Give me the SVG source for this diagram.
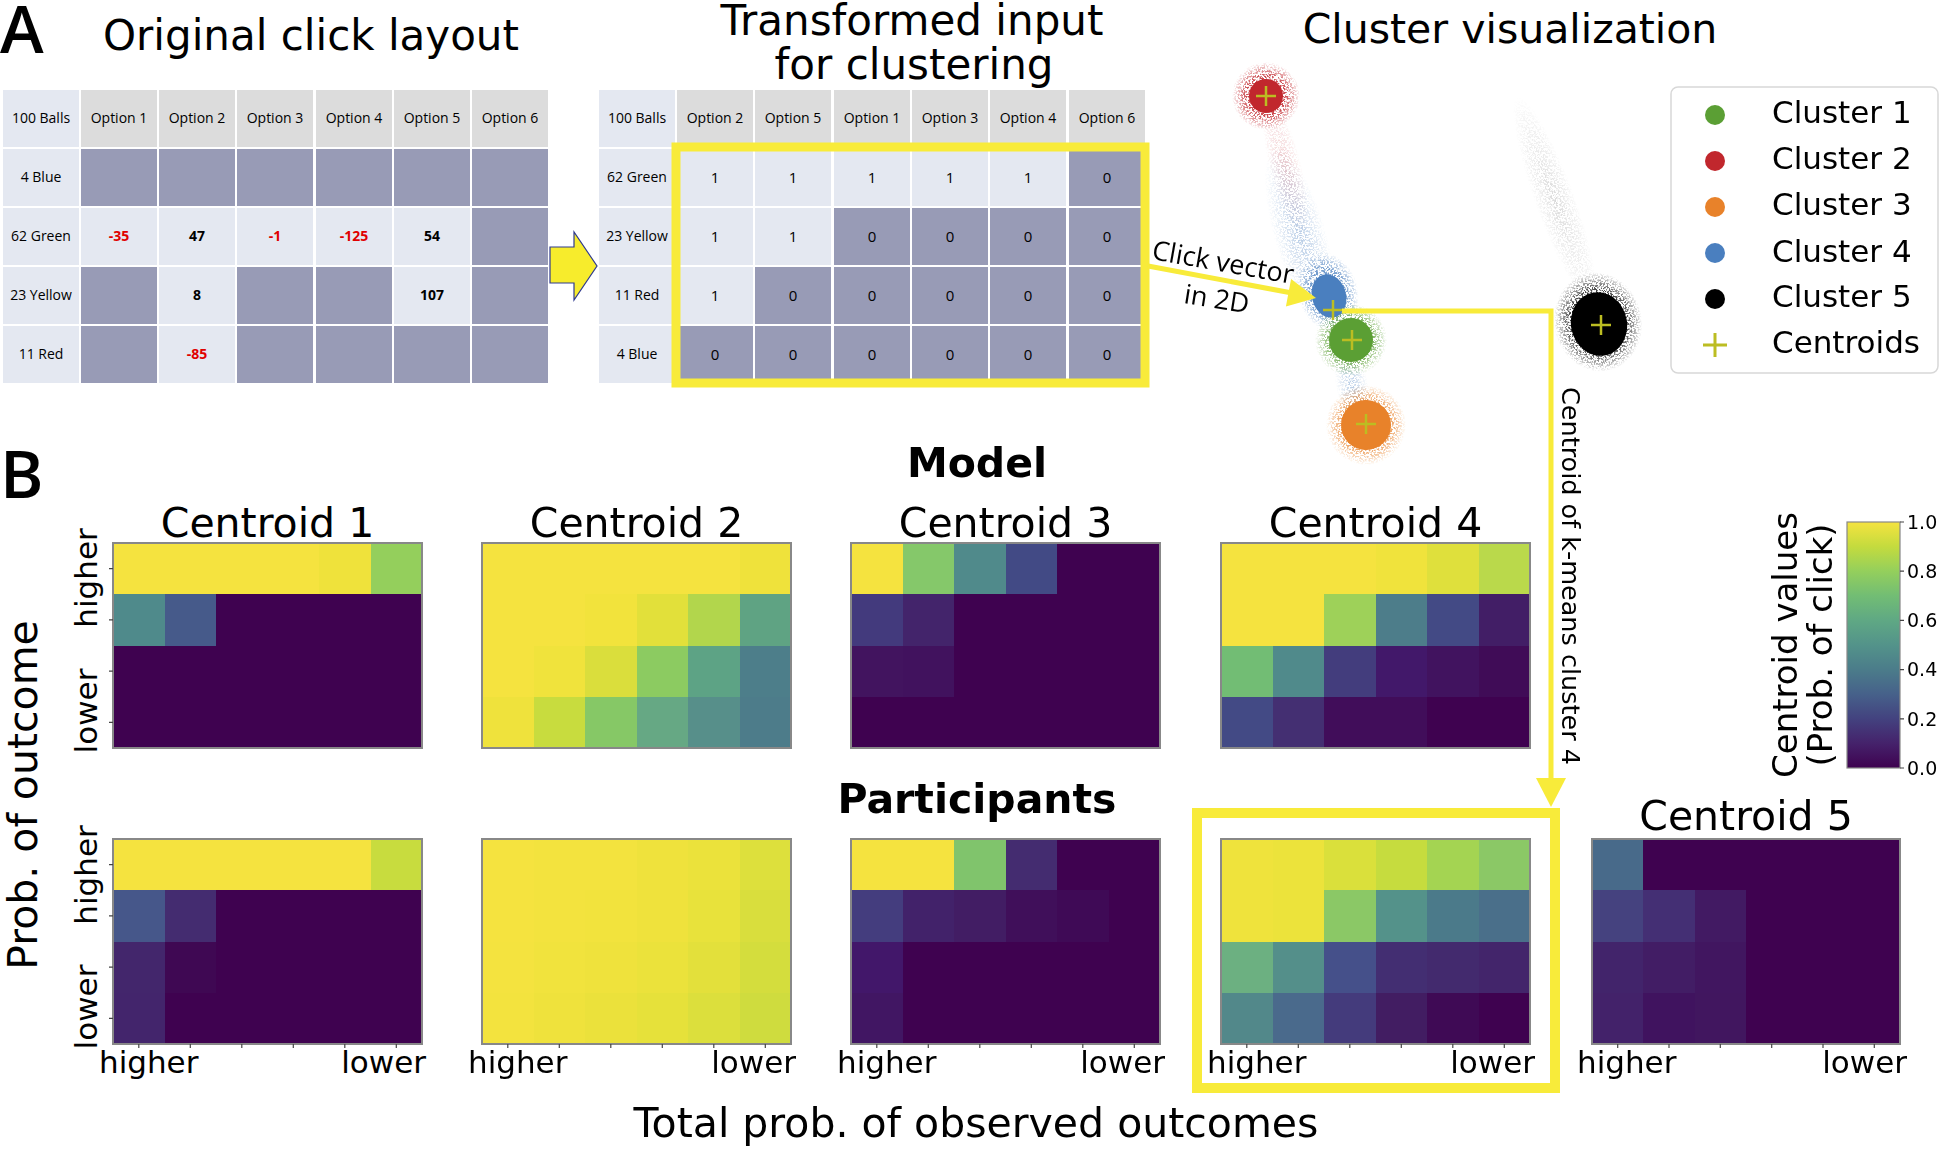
<svg xmlns="http://www.w3.org/2000/svg" width="1944" height="1152" viewBox="0 0 1944 1152">
<style>
.dj{font-family:"DejaVu Sans","Liberation Sans",sans-serif;fill:#000}
.os{font-family:"Open Sans","Liberation Sans",sans-serif;fill:#000}
.ttl{font-size:42px}
.ct{font-size:41px;text-anchor:middle}
.tk{font-size:31px}
.lg{font-size:31px}
.cell{font-size:14px;text-anchor:middle}
.num{font-size:14px;text-anchor:middle;font-weight:bold}
.bin{font-size:15px;text-anchor:middle}
.red{fill:#e00000}
.hd{fill:#dcdcdc}
.lt{fill:#e4e8f1}
.dk{fill:#989bb6}
.hm rect{shape-rendering:crispEdges}
.frame{fill:none;stroke:#888;stroke-width:1.2}
.tick{stroke:#444;stroke-width:1.2}
.hl{fill:none;stroke:#f8eb3a}
.cen{stroke:#bcbd22;stroke-width:2.5;fill:none}
</style>
<defs>
<filter id="speck" x="-60%" y="-60%" width="220%" height="220%">
<feTurbulence type="fractalNoise" baseFrequency="0.55" numOctaves="2" seed="7" result="n"/>
<feColorMatrix in="n" type="matrix" values="0 0 0 0 0  0 0 0 0 0  0 0 0 0 0  7 0 0 0 -3.2" result="m"/>
<feComposite in="SourceGraphic" in2="m" operator="in"/>
</filter>
<radialGradient id="hR"><stop offset="0" stop-color="#c1272d"/><stop offset="0.6" stop-color="#c1272d" stop-opacity="0.8"/><stop offset="1" stop-color="#c1272d" stop-opacity="0"/></radialGradient>
<radialGradient id="hB"><stop offset="0" stop-color="#4a7fbf"/><stop offset="0.6" stop-color="#4a7fbf" stop-opacity="0.7"/><stop offset="1" stop-color="#4a7fbf" stop-opacity="0"/></radialGradient>
<radialGradient id="hG"><stop offset="0" stop-color="#5b9f34"/><stop offset="0.6" stop-color="#5b9f34" stop-opacity="0.8"/><stop offset="1" stop-color="#5b9f34" stop-opacity="0"/></radialGradient>
<radialGradient id="hO"><stop offset="0" stop-color="#e8822a"/><stop offset="0.6" stop-color="#e8822a" stop-opacity="0.8"/><stop offset="1" stop-color="#e8822a" stop-opacity="0"/></radialGradient>
<radialGradient id="hK"><stop offset="0" stop-color="#000"/><stop offset="0.6" stop-color="#000" stop-opacity="0.8"/><stop offset="1" stop-color="#000" stop-opacity="0"/></radialGradient>
<radialGradient id="fB"><stop offset="0" stop-color="#4a7fbf" stop-opacity="0.4"/><stop offset="1" stop-color="#4a7fbf" stop-opacity="0"/></radialGradient>
<radialGradient id="fR"><stop offset="0" stop-color="#c1272d" stop-opacity="0.25"/><stop offset="1" stop-color="#c1272d" stop-opacity="0"/></radialGradient>
<radialGradient id="fK"><stop offset="0" stop-color="#333" stop-opacity="0.18"/><stop offset="1" stop-color="#333" stop-opacity="0"/></radialGradient>
<linearGradient id="cbar" x1="0" y1="1" x2="0" y2="0">
<stop offset="0" stop-color="#3f0250"/><stop offset="0.1" stop-color="#45226b"/><stop offset="0.2" stop-color="#43427f"/><stop offset="0.3" stop-color="#46618a"/><stop offset="0.4" stop-color="#4b7c8a"/><stop offset="0.5" stop-color="#53938a"/><stop offset="0.6" stop-color="#5fa884"/><stop offset="0.7" stop-color="#72bd74"/><stop offset="0.8" stop-color="#94cf5c"/><stop offset="0.9" stop-color="#c4db3e"/><stop offset="1" stop-color="#f5e33f"/>
</linearGradient>
<path id="plus" d="M-10,0H10M0,-10V10"/>
</defs>
<rect width="1944" height="1152" fill="#fff"/>

<g id="panel-labels">
<text class="os" x="0" y="53" font-size="66" font-weight="600">A</text>
<text class="os" x="0" y="498" font-size="66" font-weight="600">B</text>
</g>

<g id="table-original">
<text class="dj ttl" x="103" y="50">Original click layout</text>
<g>
<rect class="lt" x="3" y="90" width="76" height="57"/>
<rect class="hd" x="81" y="90" width="76" height="57"/><rect class="hd" x="159" y="90" width="76" height="57"/><rect class="hd" x="237" y="90" width="76" height="57"/><rect class="hd" x="316" y="90" width="76" height="57"/><rect class="hd" x="394" y="90" width="76" height="57"/><rect class="hd" x="472" y="90" width="76" height="57"/>
<rect class="lt" x="3" y="149" width="76" height="57"/><rect class="lt" x="3" y="208" width="76" height="57"/><rect class="lt" x="3" y="267" width="76" height="57"/><rect class="lt" x="3" y="326" width="76" height="57"/>
<rect class="dk" x="81" y="149" width="76" height="57"/><rect class="dk" x="159" y="149" width="76" height="57"/><rect class="dk" x="237" y="149" width="76" height="57"/><rect class="dk" x="316" y="149" width="76" height="57"/><rect class="dk" x="394" y="149" width="76" height="57"/><rect class="dk" x="472" y="149" width="76" height="57"/>
<rect class="lt" x="81" y="208" width="76" height="57"/><rect class="lt" x="159" y="208" width="76" height="57"/><rect class="lt" x="237" y="208" width="76" height="57"/><rect class="lt" x="316" y="208" width="76" height="57"/><rect class="lt" x="394" y="208" width="76" height="57"/><rect class="dk" x="472" y="208" width="76" height="57"/>
<rect class="dk" x="81" y="267" width="76" height="57"/><rect class="lt" x="159" y="267" width="76" height="57"/><rect class="dk" x="237" y="267" width="76" height="57"/><rect class="dk" x="316" y="267" width="76" height="57"/><rect class="lt" x="394" y="267" width="76" height="57"/><rect class="dk" x="472" y="267" width="76" height="57"/>
<rect class="dk" x="81" y="326" width="76" height="57"/><rect class="lt" x="159" y="326" width="76" height="57"/><rect class="dk" x="237" y="326" width="76" height="57"/><rect class="dk" x="316" y="326" width="76" height="57"/><rect class="dk" x="394" y="326" width="76" height="57"/><rect class="dk" x="472" y="326" width="76" height="57"/>
</g>
<g>
<text class="os cell" x="41" y="123">100 Balls</text>
<text class="os cell" x="119" y="123">Option 1</text><text class="os cell" x="197" y="123">Option 2</text><text class="os cell" x="275" y="123">Option 3</text><text class="os cell" x="354" y="123">Option 4</text><text class="os cell" x="432" y="123">Option 5</text><text class="os cell" x="510" y="123">Option 6</text>
<text class="os cell" x="41" y="182">4 Blue</text>
<text class="os cell" x="41" y="241">62 Green</text>
<text class="os cell" x="41" y="300">23 Yellow</text>
<text class="os cell" x="41" y="359">11 Red</text>
<text class="os num red" x="119" y="241">-35</text><text class="os num" x="197" y="241">47</text><text class="os num red" x="275" y="241">-1</text><text class="os num red" x="354" y="241">-125</text><text class="os num" x="432" y="241">54</text>
<text class="os num" x="197" y="300">8</text><text class="os num" x="432" y="300">107</text>
<text class="os num red" x="197" y="359">-85</text>
</g>
</g>

<g id="table-transformed">
<text class="dj ttl" text-anchor="middle"><tspan x="912" y="35">Transformed input</tspan><tspan x="914" y="79">for clustering</tspan></text>
<g>
<rect class="lt" x="599" y="90" width="76" height="57"/>
<rect class="hd" x="677" y="90" width="76" height="57"/><rect class="hd" x="755" y="90" width="76" height="57"/><rect class="hd" x="834" y="90" width="76" height="57"/><rect class="hd" x="912" y="90" width="76" height="57"/><rect class="hd" x="990" y="90" width="76" height="57"/><rect class="hd" x="1069" y="90" width="76" height="57"/>
<rect class="lt" x="599" y="149" width="76" height="57"/><rect class="lt" x="599" y="208" width="76" height="57"/><rect class="lt" x="599" y="267" width="76" height="57"/><rect class="lt" x="599" y="326" width="76" height="57"/>
<rect class="lt" x="677" y="149" width="76" height="57"/><rect class="lt" x="755" y="149" width="76" height="57"/><rect class="lt" x="834" y="149" width="76" height="57"/><rect class="lt" x="912" y="149" width="76" height="57"/><rect class="lt" x="990" y="149" width="76" height="57"/><rect class="dk" x="1069" y="149" width="76" height="57"/>
<rect class="lt" x="677" y="208" width="76" height="57"/><rect class="lt" x="755" y="208" width="76" height="57"/><rect class="dk" x="834" y="208" width="76" height="57"/><rect class="dk" x="912" y="208" width="76" height="57"/><rect class="dk" x="990" y="208" width="76" height="57"/><rect class="dk" x="1069" y="208" width="76" height="57"/>
<rect class="lt" x="677" y="267" width="76" height="57"/><rect class="dk" x="755" y="267" width="76" height="57"/><rect class="dk" x="834" y="267" width="76" height="57"/><rect class="dk" x="912" y="267" width="76" height="57"/><rect class="dk" x="990" y="267" width="76" height="57"/><rect class="dk" x="1069" y="267" width="76" height="57"/>
<rect class="dk" x="677" y="326" width="76" height="57"/><rect class="dk" x="755" y="326" width="76" height="57"/><rect class="dk" x="834" y="326" width="76" height="57"/><rect class="dk" x="912" y="326" width="76" height="57"/><rect class="dk" x="990" y="326" width="76" height="57"/><rect class="dk" x="1069" y="326" width="76" height="57"/>
</g>
<g>
<text class="os cell" x="637" y="123">100 Balls</text>
<text class="os cell" x="715" y="123">Option 2</text><text class="os cell" x="793" y="123">Option 5</text><text class="os cell" x="872" y="123">Option 1</text><text class="os cell" x="950" y="123">Option 3</text><text class="os cell" x="1028" y="123">Option 4</text><text class="os cell" x="1107" y="123">Option 6</text>
<text class="os cell" x="637" y="182">62 Green</text>
<text class="os cell" x="637" y="241">23 Yellow</text>
<text class="os cell" x="637" y="300">11 Red</text>
<text class="os cell" x="637" y="359">4 Blue</text>
<text class="os bin" x="715" y="183">1</text><text class="os bin" x="793" y="183">1</text><text class="os bin" x="872" y="183">1</text><text class="os bin" x="950" y="183">1</text><text class="os bin" x="1028" y="183">1</text><text class="os bin" x="1107" y="183">0</text>
<text class="os bin" x="715" y="242">1</text><text class="os bin" x="793" y="242">1</text><text class="os bin" x="872" y="242">0</text><text class="os bin" x="950" y="242">0</text><text class="os bin" x="1028" y="242">0</text><text class="os bin" x="1107" y="242">0</text>
<text class="os bin" x="715" y="301">1</text><text class="os bin" x="793" y="301">0</text><text class="os bin" x="872" y="301">0</text><text class="os bin" x="950" y="301">0</text><text class="os bin" x="1028" y="301">0</text><text class="os bin" x="1107" y="301">0</text>
<text class="os bin" x="715" y="360">0</text><text class="os bin" x="793" y="360">0</text><text class="os bin" x="872" y="360">0</text><text class="os bin" x="950" y="360">0</text><text class="os bin" x="1028" y="360">0</text><text class="os bin" x="1107" y="360">0</text>
</g>
<rect class="hl" x="676" y="147" width="469" height="236" stroke-width="9"/>
</g>

<g id="cluster-visualization">
<text class="dj" x="1510" y="43" font-size="41" text-anchor="middle">Cluster visualization</text>
<g filter="url(#speck)">
<ellipse cx="1285" cy="165" rx="16" ry="70" fill="url(#fR)" transform="rotate(-14 1285 165)"/>
<ellipse cx="1300" cy="235" rx="26" ry="90" fill="url(#fB)" transform="rotate(-16 1300 235)"/>
<ellipse cx="1352" cy="385" rx="16" ry="42" fill="url(#fB)" transform="rotate(-12 1352 385)"/>
<ellipse cx="1555" cy="200" rx="20" ry="110" fill="url(#fK)" transform="rotate(-20 1555 200)"/>
<circle cx="1266" cy="96" r="34" fill="url(#hR)"/>
<ellipse cx="1328" cy="292" rx="30" ry="40" fill="url(#hB)" transform="rotate(-15 1328 292)"/>
<circle cx="1351" cy="340" r="36" fill="url(#hG)"/>
<circle cx="1366" cy="425" r="40" fill="url(#hO)"/>
<ellipse cx="1598" cy="322" rx="44" ry="50" fill="url(#hK)" transform="rotate(-12 1598 322)"/>
</g>
<circle cx="1266" cy="96" r="17" fill="#c1272d"/>
<ellipse cx="1329" cy="296" rx="17" ry="22" fill="#4a7fbf" transform="rotate(-15 1329 296)"/>
<circle cx="1351" cy="340" r="22" fill="#5b9f34"/>
<circle cx="1366" cy="425" r="25" fill="#e8822a"/>
<ellipse cx="1599" cy="324" rx="28" ry="32" fill="#000" transform="rotate(-12 1599 324)"/>
<use href="#plus" class="cen" x="1266" y="96"/>
<use href="#plus" class="cen" x="1333" y="310"/>
<use href="#plus" class="cen" x="1352" y="340"/>
<use href="#plus" class="cen" x="1366" y="424"/>
<use href="#plus" class="cen" x="1601" y="325"/>
</g>

<g id="legend">
<rect x="1671" y="87" width="267" height="286" rx="7" fill="#fff" stroke="#d8d8d8" stroke-width="1.5"/>
<circle cx="1715" cy="115" r="10" fill="#5b9f34"/>
<circle cx="1715" cy="161" r="10" fill="#c1272d"/>
<circle cx="1715" cy="207" r="10" fill="#e8822a"/>
<circle cx="1715" cy="253" r="10" fill="#4a7fbf"/>
<circle cx="1715" cy="299" r="10" fill="#000"/>
<path d="M1703,345H1727M1715,333V357" stroke="#bcbd22" stroke-width="3"/>
<text class="dj lg" x="1772" y="123">Cluster 1</text>
<text class="dj lg" x="1772" y="169">Cluster 2</text>
<text class="dj lg" x="1772" y="215">Cluster 3</text>
<text class="dj lg" x="1772" y="262">Cluster 4</text>
<text class="dj lg" x="1772" y="307">Cluster 5</text>
<text class="dj lg" x="1772" y="353">Centroids</text>
</g>

<g id="row-titles">
<text class="dj" x="977" y="477" font-size="41" font-weight="bold" text-anchor="middle">Model</text>
<text class="dj" x="977" y="813" font-size="41" font-weight="bold" text-anchor="middle">Participants</text>
<text class="dj" x="976" y="1137" font-size="41" text-anchor="middle">Total prob. of observed outcomes</text>
<text class="dj" transform="translate(37,795) rotate(-90)" font-size="41" text-anchor="middle">Prob. of outcome</text>
</g>

<g id="heatmap-model-1">
<text class="dj ct" x="267.5" y="537">Centroid 1</text>
<g class="hm" transform="translate(113,543)">
<rect x="0" y="0" width="206" height="51.3" fill="#f5e33f"/><rect x="206" y="0" width="51.5" height="51.3" fill="#efe23b"/><rect x="257.5" y="0" width="51.5" height="51.3" fill="#94cf5c"/>
<rect x="0" y="51.3" width="51.5" height="51.3" fill="#4f8a8b"/><rect x="51.5" y="51.3" width="51.5" height="51.3" fill="#465a8a"/><rect x="103" y="51.3" width="206" height="51.3" fill="#3f0250"/>
<rect x="0" y="102.5" width="309" height="102.5" fill="#3f0250"/>
<rect class="frame" width="309" height="205"/>
<path class="tick" d="M-4,25.6H0M-4,76.9H0M-4,128.1H0M-4,179.4H0"/>
</g>
<text class="dj tk" transform="translate(97,578) rotate(-90)" text-anchor="middle">higher</text>
<text class="dj tk" transform="translate(97,711) rotate(-90)" text-anchor="middle">lower</text>
</g>

<g id="heatmap-model-2">
<text class="dj ct" x="636.5" y="537">Centroid 2</text>
<g class="hm" transform="translate(482,543)">
<rect x="0" y="0" width="257.5" height="51.3" fill="#f5e33f"/><rect x="257.5" y="0" width="51.5" height="51.3" fill="#efe23b"/>
<rect x="0" y="51.3" width="103" height="51.3" fill="#f5e33f"/><rect x="103" y="51.3" width="51.5" height="51.3" fill="#f2e33c"/><rect x="154.5" y="51.3" width="51.5" height="51.3" fill="#e2e03a"/><rect x="206" y="51.3" width="51.5" height="51.3" fill="#b2d64c"/><rect x="257.5" y="51.3" width="51.5" height="51.3" fill="#5fa383"/>
<rect x="0" y="102.5" width="51.5" height="51.3" fill="#f5e33f"/><rect x="51.5" y="102.5" width="51.5" height="51.3" fill="#f0e33c"/><rect x="103" y="102.5" width="51.5" height="51.3" fill="#dade3c"/><rect x="154.5" y="102.5" width="51.5" height="51.3" fill="#8ccb61"/><rect x="206" y="102.5" width="51.5" height="51.3" fill="#5da385"/><rect x="257.5" y="102.5" width="51.5" height="51.3" fill="#4d7e8a"/>
<rect x="0" y="153.8" width="51.5" height="51.2" fill="#efe23c"/><rect x="51.5" y="153.8" width="51.5" height="51.2" fill="#c8dc3e"/><rect x="103" y="153.8" width="51.5" height="51.2" fill="#86c866"/><rect x="154.5" y="153.8" width="51.5" height="51.2" fill="#66a884"/><rect x="206" y="153.8" width="51.5" height="51.2" fill="#578f8a"/><rect x="257.5" y="153.8" width="51.5" height="51.2" fill="#4d7c8a"/>
<rect class="frame" width="309" height="205"/>
</g>
</g>

<g id="heatmap-model-3">
<text class="dj ct" x="1005.5" y="537">Centroid 3</text>
<g class="hm" transform="translate(851,543)">
<rect x="0" y="0" width="309" height="205" fill="#3f0250"/>
<rect x="0" y="0" width="51.5" height="51.3" fill="#f5e33f"/><rect x="51.5" y="0" width="51.5" height="51.3" fill="#85c86a"/><rect x="103" y="0" width="51.5" height="51.3" fill="#508a8b"/><rect x="154.5" y="0" width="51.5" height="51.3" fill="#424a85"/>
<rect x="0" y="51.3" width="51.5" height="51.3" fill="#433a7d"/><rect x="51.5" y="51.3" width="51.5" height="51.3" fill="#43246b"/>
<rect x="0" y="102.5" width="51.5" height="51.3" fill="#42145f"/><rect x="51.5" y="102.5" width="51.5" height="51.3" fill="#41125e"/>
<rect class="frame" width="309" height="205"/>
</g>
</g>

<g id="heatmap-model-4">
<text class="dj ct" x="1375.5" y="537">Centroid 4</text>
<g class="hm" transform="translate(1221,543)">
<rect x="0" y="0" width="154.5" height="51.3" fill="#f5e33f"/><rect x="154.5" y="0" width="51.5" height="51.3" fill="#f0e33c"/><rect x="206" y="0" width="51.5" height="51.3" fill="#dfe03c"/><rect x="257.5" y="0" width="51.5" height="51.3" fill="#bad94b"/>
<rect x="0" y="51.3" width="103" height="51.3" fill="#f5e33f"/><rect x="103" y="51.3" width="51.5" height="51.3" fill="#9ed159"/><rect x="154.5" y="51.3" width="51.5" height="51.3" fill="#4d7d8a"/><rect x="206" y="51.3" width="51.5" height="51.3" fill="#434a85"/><rect x="257.5" y="51.3" width="51.5" height="51.3" fill="#421e66"/>
<rect x="0" y="102.5" width="51.5" height="51.3" fill="#72bd74"/><rect x="51.5" y="102.5" width="51.5" height="51.3" fill="#508a8b"/><rect x="103" y="102.5" width="51.5" height="51.3" fill="#433d7d"/><rect x="154.5" y="102.5" width="51.5" height="51.3" fill="#42186a"/><rect x="206" y="102.5" width="51.5" height="51.3" fill="#41135f"/><rect x="257.5" y="102.5" width="51.5" height="51.3" fill="#400c57"/>
<rect x="0" y="153.8" width="51.5" height="51.2" fill="#434a85"/><rect x="51.5" y="153.8" width="51.5" height="51.2" fill="#442f72"/><rect x="103" y="153.8" width="51.5" height="51.2" fill="#410d5a"/><rect x="154.5" y="153.8" width="51.5" height="51.2" fill="#410d5a"/><rect x="206" y="153.8" width="103" height="51.2" fill="#3f0250"/>
<rect class="frame" width="309" height="205"/>
</g>
</g>

<g id="colorbar">
<rect x="1847" y="522" width="53" height="246" fill="url(#cbar)" stroke="#888" stroke-width="1.2"/>
<path class="tick" d="M1900,522h4M1900,571.2h4M1900,620.4h4M1900,669.6h4M1900,718.8h4M1900,768h4"/>
<g class="dj" font-size="19">
<text x="1907" y="529">1.0</text>
<text x="1907" y="578">0.8</text>
<text x="1907" y="627">0.6</text>
<text x="1907" y="676">0.4</text>
<text x="1907" y="726">0.2</text>
<text x="1907" y="775">0.0</text>
</g>
<text class="dj" transform="translate(1797,645) rotate(-90)" font-size="34" text-anchor="middle">Centroid values</text>
<text class="dj" transform="translate(1832,645) rotate(-90)" font-size="34" text-anchor="middle">(Prob. of click)</text>
</g>

<g id="heatmap-participants-1">
<g class="hm" transform="translate(113,839)">
<rect x="0" y="0" width="309" height="205" fill="#3f0250"/>
<rect x="0" y="0" width="257.5" height="51.3" fill="#f5e33f"/><rect x="257.5" y="0" width="51.5" height="51.3" fill="#c8dc3e"/>
<rect x="0" y="51.3" width="51.5" height="51.3" fill="#46578a"/><rect x="51.5" y="51.3" width="51.5" height="51.3" fill="#442c70"/>
<rect x="0" y="102.5" width="51.5" height="51.3" fill="#43266c"/><rect x="51.5" y="102.5" width="51.5" height="51.3" fill="#3f0853"/>
<rect x="0" y="153.8" width="51.5" height="51.2" fill="#43256c"/>
<rect class="frame" width="309" height="205"/>
<path class="tick" d="M-4,25.6H0M-4,76.9H0M-4,128.1H0M-4,179.4H0M25.8,205v4M77.3,205v4M128.8,205v4M180.3,205v4M231.8,205v4M283.3,205v4"/>
</g>
<text class="dj tk" transform="translate(97,875) rotate(-90)" text-anchor="middle">higher</text>
<text class="dj tk" transform="translate(97,1007) rotate(-90)" text-anchor="middle">lower</text>
<text class="dj tk" x="99" y="1073">higher</text>
<text class="dj tk" x="426" y="1073" text-anchor="end">lower</text>
</g>

<g id="heatmap-participants-2">
<g class="hm" transform="translate(482,839)">
<rect x="0" y="0" width="51.5" height="51.3" fill="#f5e33f"/><rect x="51.5" y="0" width="51.5" height="51.3" fill="#f3e33e"/><rect x="103" y="0" width="51.5" height="51.3" fill="#f3e33e"/><rect x="154.5" y="0" width="51.5" height="51.3" fill="#efe23c"/><rect x="206" y="0" width="51.5" height="51.3" fill="#ebe23b"/><rect x="257.5" y="0" width="51.5" height="51.3" fill="#dde03c"/>
<rect x="0" y="51.3" width="51.5" height="51.3" fill="#f5e33f"/><rect x="51.5" y="51.3" width="51.5" height="51.3" fill="#f3e33e"/><rect x="103" y="51.3" width="51.5" height="51.3" fill="#f2e33d"/><rect x="154.5" y="51.3" width="51.5" height="51.3" fill="#efe23c"/><rect x="206" y="51.3" width="51.5" height="51.3" fill="#e8e23b"/><rect x="257.5" y="51.3" width="51.5" height="51.3" fill="#d9de3d"/>
<rect x="0" y="102.5" width="51.5" height="51.3" fill="#f4e33f"/><rect x="51.5" y="102.5" width="51.5" height="51.3" fill="#f1e33d"/><rect x="103" y="102.5" width="51.5" height="51.3" fill="#efe23c"/><rect x="154.5" y="102.5" width="51.5" height="51.3" fill="#ebe23b"/><rect x="206" y="102.5" width="51.5" height="51.3" fill="#e3e03b"/><rect x="257.5" y="102.5" width="51.5" height="51.3" fill="#d4dd3d"/>
<rect x="0" y="153.8" width="51.5" height="51.2" fill="#f3e33e"/><rect x="51.5" y="153.8" width="51.5" height="51.2" fill="#efe23c"/><rect x="103" y="153.8" width="51.5" height="51.2" fill="#ebe13b"/><rect x="154.5" y="153.8" width="51.5" height="51.2" fill="#e6e13a"/><rect x="206" y="153.8" width="51.5" height="51.2" fill="#dcdf3c"/><rect x="257.5" y="153.8" width="51.5" height="51.2" fill="#cfdc3e"/>
<rect class="frame" width="309" height="205"/>
<path class="tick" d="M25.8,205v4M77.3,205v4M128.8,205v4M180.3,205v4M231.8,205v4M283.3,205v4"/>
</g>
<text class="dj tk" x="468" y="1073">higher</text>
<text class="dj tk" x="796" y="1073" text-anchor="end">lower</text>
</g>

<g id="heatmap-participants-3">
<g class="hm" transform="translate(851,839)">
<rect x="0" y="0" width="309" height="205" fill="#3f0250"/>
<rect x="0" y="0" width="103" height="51.3" fill="#f5e33f"/><rect x="103" y="0" width="51.5" height="51.3" fill="#80c46c"/><rect x="154.5" y="0" width="51.5" height="51.3" fill="#442c70"/>
<rect x="0" y="51.3" width="51.5" height="51.3" fill="#443d7e"/><rect x="51.5" y="51.3" width="51.5" height="51.3" fill="#42226a"/><rect x="103" y="51.3" width="51.5" height="51.3" fill="#421d64"/><rect x="154.5" y="51.3" width="51.5" height="51.3" fill="#400f5a"/><rect x="206" y="51.3" width="51.5" height="51.3" fill="#3f0a56"/>
<rect x="0" y="102.5" width="51.5" height="51.3" fill="#42176a"/>
<rect x="0" y="153.8" width="51.5" height="51.2" fill="#411663"/>
<rect class="frame" width="309" height="205"/>
<path class="tick" d="M25.8,205v4M77.3,205v4M128.8,205v4M180.3,205v4M231.8,205v4M283.3,205v4"/>
</g>
<text class="dj tk" x="837" y="1073">higher</text>
<text class="dj tk" x="1165" y="1073" text-anchor="end">lower</text>
</g>

<g id="heatmap-participants-4">
<g class="hm" transform="translate(1221,839)">
<rect x="0" y="0" width="51.5" height="51.3" fill="#efe33c"/><rect x="51.5" y="0" width="51.5" height="51.3" fill="#ece33b"/><rect x="103" y="0" width="51.5" height="51.3" fill="#dae03b"/><rect x="154.5" y="0" width="51.5" height="51.3" fill="#c6dc3e"/><rect x="206" y="0" width="51.5" height="51.3" fill="#a4d452"/><rect x="257.5" y="0" width="51.5" height="51.3" fill="#8bc866"/>
<rect x="0" y="51.3" width="51.5" height="51.3" fill="#efe33c"/><rect x="51.5" y="51.3" width="51.5" height="51.3" fill="#ece33b"/><rect x="103" y="51.3" width="51.5" height="51.3" fill="#8bc866"/><rect x="154.5" y="51.3" width="51.5" height="51.3" fill="#54928a"/><rect x="206" y="51.3" width="51.5" height="51.3" fill="#4b7a8a"/><rect x="257.5" y="51.3" width="51.5" height="51.3" fill="#4a6f8a"/>
<rect x="0" y="102.5" width="51.5" height="51.3" fill="#6cb081"/><rect x="51.5" y="102.5" width="51.5" height="51.3" fill="#548f8a"/><rect x="103" y="102.5" width="51.5" height="51.3" fill="#45508a"/><rect x="154.5" y="102.5" width="51.5" height="51.3" fill="#432e72"/><rect x="206" y="102.5" width="51.5" height="51.3" fill="#432a6e"/><rect x="257.5" y="102.5" width="51.5" height="51.3" fill="#43256b"/>
<rect x="0" y="153.8" width="51.5" height="51.2" fill="#52888a"/><rect x="51.5" y="153.8" width="51.5" height="51.2" fill="#4a6a8c"/><rect x="103" y="153.8" width="51.5" height="51.2" fill="#443b7c"/><rect x="154.5" y="153.8" width="51.5" height="51.2" fill="#421d62"/><rect x="206" y="153.8" width="51.5" height="51.2" fill="#3f0a55"/><rect x="257.5" y="153.8" width="51.5" height="51.2" fill="#3f0250"/>
<rect class="frame" width="309" height="205"/>
<path class="tick" d="M25.8,205v4M77.3,205v4M128.8,205v4M180.3,205v4M231.8,205v4M283.3,205v4"/>
</g>
<text class="dj tk" x="1207" y="1073">higher</text>
<text class="dj tk" x="1535" y="1073" text-anchor="end">lower</text>
<rect class="hl" x="1197" y="813" width="358" height="275" stroke-width="10"/>
</g>

<g id="heatmap-participants-5">
<text class="dj ct" x="1746" y="830">Centroid 5</text>
<g class="hm" transform="translate(1592,839)">
<rect x="0" y="0" width="308" height="205" fill="#3f0250"/>
<rect x="0" y="0" width="51.3" height="51.3" fill="#486a8a"/>
<rect x="0" y="51.3" width="51.3" height="51.3" fill="#45427f"/><rect x="51.3" y="51.3" width="51.3" height="51.3" fill="#442f74"/><rect x="102.6" y="51.3" width="51.3" height="51.3" fill="#421a63"/>
<rect x="0" y="102.5" width="51.3" height="51.3" fill="#42246b"/><rect x="51.3" y="102.5" width="51.3" height="51.3" fill="#421d65"/><rect x="102.6" y="102.5" width="51.3" height="51.3" fill="#411660"/>
<rect x="0" y="153.8" width="51.3" height="51.2" fill="#43226a"/><rect x="51.3" y="153.8" width="51.3" height="51.2" fill="#40135f"/><rect x="102.6" y="153.8" width="51.3" height="51.2" fill="#41165f"/>
<rect class="frame" width="308" height="205"/>
<path class="tick" d="M25.7,205v4M77,205v4M128.3,205v4M179.7,205v4M231,205v4M282.3,205v4"/>
</g>
<text class="dj tk" x="1577" y="1073">higher</text>
<text class="dj tk" x="1907" y="1073" text-anchor="end">lower</text>
</g>

<g id="connectors">
<path d="M550,247H574V232L597,266L574,300V283H550Z" fill="#f7ec2c" stroke="#2f3a8f" stroke-width="1.2"/>
<line x1="1148" y1="266" x2="1292" y2="293" stroke="#f8eb3a" stroke-width="5"/>
<path d="M1316,298L1285.9,306.5L1291.1,279.1Z" fill="#f8eb3a"/>
<text class="os" transform="translate(1151,259) rotate(10)" font-size="27">Click vector</text>
<text class="os" transform="translate(1183,303) rotate(9)" font-size="27">in 2D</text>
<path d="M1342,311H1551V780" fill="none" stroke="#f8eb3a" stroke-width="5"/>
<path d="M1536,778H1566L1551,807Z" fill="#f8eb3a"/>
<text class="dj" transform="translate(1562,387) rotate(90)" font-size="25.5">Centroid of k-means cluster 4</text>
</g>
</svg>
